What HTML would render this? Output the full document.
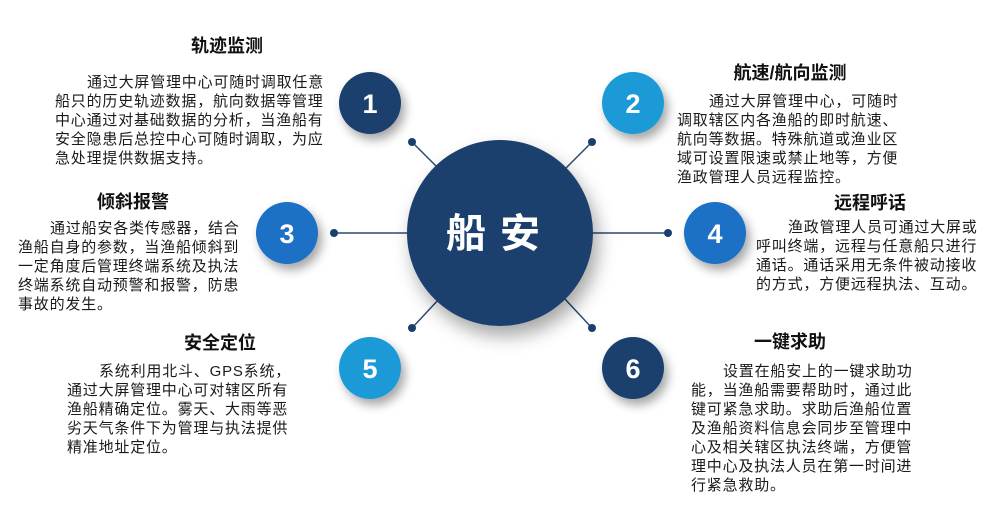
<!DOCTYPE html>
<html><head><meta charset="utf-8"><style>
body{margin:0;background:#fff;}
#c{position:relative;width:990px;height:510px;overflow:hidden;font-family:"Liberation Sans","Noto Sans CJK SC",sans-serif;color:#1a1a1a;}
.t{position:absolute;font-size:15px;letter-spacing:0.8px;white-space:nowrap;line-height:19px;}
.h{position:absolute;font-size:18px;font-weight:bold;white-space:nowrap;line-height:22px;transform:translateX(-50%);color:#111;}
.i{display:inline-block;width:32px;}
</style></head><body><div id="c">
<svg width="990" height="510" style="position:absolute;left:0;top:0">
<defs>
<filter id="s" x="-50%" y="-50%" width="200%" height="200%"><feDropShadow dx="4" dy="6" stdDeviation="5" flood-color="#000" flood-opacity="0.35"/></filter>
<filter id="s2" x="-50%" y="-50%" width="200%" height="200%"><feDropShadow dx="5" dy="10" stdDeviation="9" flood-color="#000" flood-opacity="0.35"/></filter>
</defs>
<g stroke="#2a4a72" stroke-width="1.5">
<line x1="412" y1="142" x2="440" y2="170"/><line x1="592" y1="142" x2="564" y2="170"/>
<line x1="334" y1="233" x2="410" y2="233"/><line x1="668" y1="233" x2="590" y2="233"/>
<line x1="412" y1="328" x2="440" y2="298"/><line x1="592" y1="328" x2="564" y2="298"/>
</g>
<g fill="#1b3f6d">
<circle cx="412" cy="142" r="4"/><circle cx="592" cy="142" r="4"/><circle cx="334" cy="233" r="4"/><circle cx="668" cy="233" r="4"/><circle cx="412" cy="328" r="4"/><circle cx="592" cy="328" r="4"/>
</g>
<circle cx="500" cy="233" r="93" fill="#1b3f6d" filter="url(#s2)"/>
<circle cx="370" cy="103" r="31" fill="#1b3f6d" filter="url(#s)"/>
<circle cx="633" cy="103" r="31" fill="#1a9ad8" filter="url(#s)"/>
<circle cx="287" cy="233" r="31" fill="#1a6fc6" filter="url(#s)"/>
<circle cx="715" cy="233" r="31" fill="#1a6fc6" filter="url(#s)"/>
<circle cx="370" cy="368" r="31" fill="#1a9ad8" filter="url(#s)"/>
<circle cx="633" cy="368" r="31" fill="#1b3f6d" filter="url(#s)"/>
<g fill="#fff" font-family="Liberation Sans,sans-serif" font-weight="bold" font-size="27" text-anchor="middle">
<text x="370" y="113">1</text><text x="633" y="113">2</text><text x="287" y="243">3</text><text x="715" y="243">4</text><text x="370" y="378">5</text><text x="633" y="378">6</text>
</g>
<text x="500" y="247" fill="#fff" font-family="Noto Sans CJK SC,sans-serif" font-weight="bold" font-size="40" text-anchor="middle" letter-spacing="14">船安</text>
</svg>
<div class="h" style="left:227px;top:35px">轨迹监测</div>
<div class="t" style="left:55px;top:72.5px"><span class="i"></span>通过大屏管理中心可随时调取任意<br>船只的历史轨迹数据，航向数据等管理<br>中心通过对基础数据的分析，当渔船有<br>安全隐患后总控中心可随时调取，为应<br>急处理提供数据支持。</div>
<div class="h" style="left:790px;top:62px">航速/航向监测</div>
<div class="t" style="left:677px;top:92px"><span class="i"></span>通过大屏管理中心，可随时<br>调取辖区内各渔船的即时航速、<br>航向等数据。特殊航道或渔业区<br>域可设置限速或禁止地等，方便<br>渔政管理人员远程监控。</div>
<div class="h" style="left:133px;top:191px">倾斜报警</div>
<div class="t" style="left:18px;top:219px"><span class="i"></span>通过船安各类传感器，结合<br>渔船自身的参数，当渔船倾斜到<br>一定角度后管理终端系统及执法<br>终端系统自动预警和报警，防患<br>事故的发生。</div>
<div class="h" style="left:870px;top:192px">远程呼话</div>
<div class="t" style="left:756px;top:218px"><span class="i"></span>渔政管理人员可通过大屏或<br>呼叫终端，远程与任意船只进行<br>通话。通话采用无条件被动接收<br>的方式，方便远程执法、互动。</div>
<div class="h" style="left:220px;top:332px">安全定位</div>
<div class="t" style="left:67px;top:362px"><span class="i"></span>系统利用北斗、GPS系统，<br>通过大屏管理中心可对辖区所有<br>渔船精确定位。雾天、大雨等恶<br>劣天气条件下为管理与执法提供<br>精准地址定位。</div>
<div class="h" style="left:790px;top:331px">一键求助</div>
<div class="t" style="left:691px;top:362px"><span class="i"></span>设置在船安上的一键求助功<br>能，当渔船需要帮助时，通过此<br>键可紧急求助。求助后渔船位置<br>及渔船资料信息会同步至管理中<br>心及相关辖区执法终端，方便管<br>理中心及执法人员在第一时间进<br>行紧急救助。</div>
</div></body></html>
